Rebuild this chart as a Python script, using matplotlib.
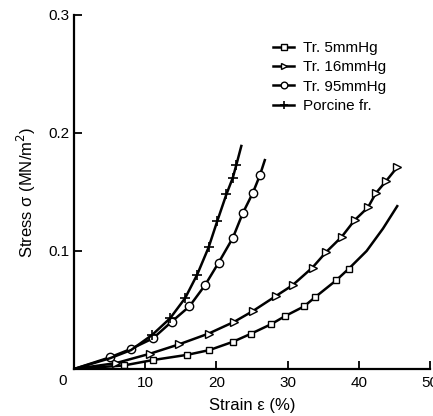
import matplotlib.pyplot as plt
import numpy as np

plt.rcParams['font.family'] = ['Liberation Sans', 'DejaVu Sans']

# Tr. 5mmHg (squares)
x_5 = [0, 3.5, 7.0, 11.1, 15.9, 19.0, 22.3, 24.9, 27.7, 29.7, 32.3, 33.9, 36.8, 38.6, 41.1, 43.4, 45.4]
y_5 = [0, 0.0015, 0.003, 0.0076, 0.012, 0.016, 0.023, 0.030, 0.038, 0.045, 0.053, 0.061, 0.075, 0.085, 0.100, 0.119, 0.138]
mk_5 = [2, 3, 4, 5, 6, 7, 8, 9, 10, 11, 12, 13]

# Tr. 16mmHg (triangles)
x_16 = [0, 5.9, 10.7, 14.8, 18.9, 22.5, 25.1, 28.4, 30.7, 33.5, 35.4, 37.6, 39.4, 41.3, 42.4, 43.8, 45.4]
y_16 = [0, 0.005, 0.013, 0.021, 0.030, 0.040, 0.049, 0.062, 0.071, 0.086, 0.099, 0.112, 0.126, 0.137, 0.149, 0.159, 0.171]
mk_16 = list(range(1, 17))

# Tr. 95mmHg (circles)
x_95 = [0, 5.1, 8.0, 11.1, 13.7, 16.2, 18.4, 20.3, 22.3, 23.7, 25.1, 26.1, 26.8]
y_95 = [0, 0.010, 0.017, 0.026, 0.040, 0.053, 0.071, 0.090, 0.111, 0.132, 0.149, 0.164, 0.177]
mk_95 = list(range(1, 12))

# Porcine fr. (plus)
x_pf = [0, 5.0, 8.0, 11.0, 13.5, 15.6, 17.3, 18.9, 20.1, 21.4, 22.3, 22.8, 23.5]
y_pf = [0, 0.009, 0.016, 0.029, 0.043, 0.060, 0.080, 0.103, 0.125, 0.148, 0.162, 0.173, 0.189]
mk_pf = list(range(3, 12))

fig = plt.figure(figsize=(4.33, 4.16), dpi=100)
ax = fig.add_axes([0.171, 0.113, 0.822, 0.851])

lw = 1.8
ax.plot(x_5, y_5, color='black', lw=lw, marker='s', ms=5, mfc='white', mec='black', mew=1.0,
        markevery=mk_5, label='Tr. 5mmHg')
ax.plot(x_16, y_16, color='black', lw=lw, marker='>', ms=6, mfc='white', mec='black', mew=1.0,
        markevery=mk_16, label='Tr. 16mmHg')
ax.plot(x_95, y_95, color='black', lw=lw, marker='o', ms=6, mfc='white', mec='black', mew=1.0,
        markevery=mk_95, label='Tr. 95mmHg')
ax.plot(x_pf, y_pf, color='black', lw=lw, marker='+', ms=7, mec='black', mew=1.2,
        markevery=mk_pf, label='Porcine fr.')

ax.set_xlim(0, 50)
ax.set_ylim(0, 0.3)
ax.spines['top'].set_visible(False)
ax.spines['right'].set_visible(False)
ax.spines['left'].set_linewidth(1.6)
ax.spines['bottom'].set_linewidth(1.6)
ax.set_xticks([10, 20, 30, 40, 50])
ax.set_yticks([0.1, 0.2, 0.3])
ax.set_yticklabels(['0.1', '0.2', '0.3'])
ax.tick_params(direction='in', length=6, width=1.3, labelsize=11)
ax.tick_params(axis='x', pad=5)
ax.tick_params(axis='y', length=6, pad=3)
ax.text(-1.0, -0.004, '0', ha='right', va='top', fontsize=11)

ax.set_xlabel('Strain \u03b5 (%)', fontsize=12, labelpad=6)
ax.set_ylabel('Stress \u03c3 (MN/m$^2$)', fontsize=12, labelpad=8)

leg = ax.legend(loc='upper left', bbox_to_anchor=(0.52, 0.965), frameon=False, fontsize=11,
                handlelength=1.4, handletextpad=0.6, labelspacing=0.35, markerscale=0.8)

fig.savefig('out.png', dpi=100)
